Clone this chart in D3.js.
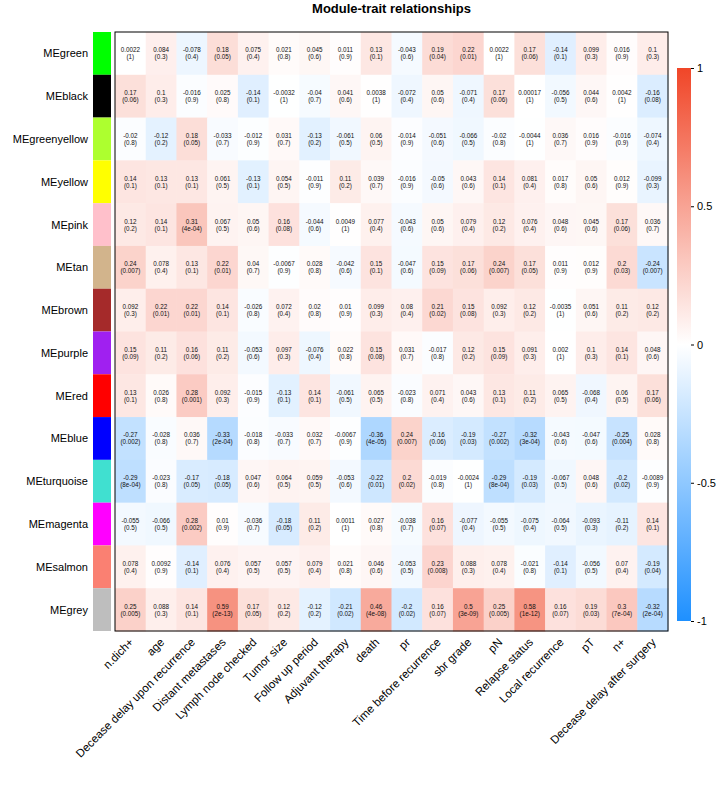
<!DOCTYPE html>
<html><head><meta charset="utf-8">
<script src="https://cdn.jsdelivr.net/npm/d3@7"></script>
<style>body{margin:0;background:#fff}svg{display:block;font-family:"Liberation Sans",Arial,sans-serif}</style>
</head><body><svg id="c" width="720" height="802"></svg>
<script>
const modules = ["MEgreen","MEblack","MEgreenyellow","MEyellow","MEpink","MEtan","MEbrown","MEpurple","MEred","MEblue","MEturquoise","MEmagenta","MEsalmon","MEgrey"];
const moduleColors = ["#00FF00","#000000","#ADFF2F","#FFFF00","#FFC0CB","#D2B48C","#A52A2A","#A020F0","#FF0000","#0000FF","#40E0D0","#FF00FF","#FA8072","#BEBEBE"];
const traits = ["n.dich+","age","Decease delay upon recurrence","Distant metastases","Lymph node checked","Tumor size","Follow up period","Adjuvant therapy","death","pr","Time before recurrence","sbr grade","pN","Relapse status","Local recurrence","pT","n+","Decease delay after surgery"];
const cor = [
 ["0.0022","0.084","-0.078","0.18","0.075","0.021","0.045","0.011","0.13","-0.043","0.19","0.22","0.0022","0.17","-0.14","0.099","0.016","0.1"],
 ["0.17","0.1","-0.016","0.025","-0.14","-0.0032","-0.04","0.041","0.0038","-0.072","0.05","-0.071","0.17","0.00017","-0.056","0.044","0.0042","-0.16"],
 ["-0.02","-0.12","0.18","-0.033","-0.012","0.031","-0.13","-0.061","0.06","-0.014","-0.051","-0.066","-0.02","-0.0044","0.036","0.016","-0.016","-0.074"],
 ["0.14","0.13","0.13","0.061","-0.13","0.054","-0.011","0.11","0.039","-0.016","-0.05","0.043","0.14","0.081","0.017","0.05","0.012","-0.099"],
 ["0.12","0.14","0.31","0.067","0.05","0.16","-0.044","0.0049","0.077","-0.043","0.05","0.079","0.12","0.076","0.048","0.045","0.17","0.036"],
 ["0.24","0.078","0.13","0.22","0.04","-0.0067","0.028","-0.042","0.15","-0.047","0.15","0.17","0.24","0.17","0.011","0.012","0.2","-0.24"],
 ["0.092","0.22","0.22","0.14","-0.026","0.072","0.02","0.01","0.099","0.08","0.21","0.15","0.092","0.12","-0.0035","0.051","0.11","0.12"],
 ["0.15","0.11","0.16","0.11","-0.053","0.097","-0.076","0.022","0.15","0.031","-0.017","0.12","0.15","0.091","0.002","0.1","0.14","0.048"],
 ["0.13","0.026","0.28","0.092","-0.015","-0.13","0.14","-0.061","0.065","-0.023","0.071","0.043","0.13","0.11","0.065","-0.068","0.06","0.17"],
 ["-0.27","-0.028","0.036","-0.33","-0.018","-0.033","0.032","-0.0067","-0.36","0.24","-0.16","-0.19","-0.27","-0.32","-0.043","-0.047","-0.25","0.028"],
 ["-0.29","-0.023","-0.17","-0.18","0.047","0.064","0.059","-0.053","-0.22","0.2","-0.019","-0.0024","-0.29","-0.19","-0.067","0.048","-0.2","-0.0089"],
 ["-0.055","-0.066","0.28","0.01","-0.036","-0.18","0.11","0.0011","0.027","-0.038","0.16","-0.077","-0.055","-0.075","-0.064","-0.093","-0.11","0.14"],
 ["0.078","0.0092","-0.14","0.076","0.057","0.057","0.079","0.021","0.046","-0.053","0.23","0.088","0.078","-0.021","-0.14","-0.056","0.07","-0.19"],
 ["0.25","0.088","0.14","0.59","0.17","0.12","-0.12","-0.21","0.46","-0.2","0.16","0.5","0.25","0.58","0.16","0.19","0.3","-0.32"]
];
const pval = [
 ["1","0.3","0.4","0.05","0.4","0.8","0.6","0.9","0.1","0.6","0.04","0.01","1","0.06","0.1","0.3","0.9","0.3"],
 ["0.06","0.3","0.9","0.8","0.1","1","0.7","0.6","1","0.4","0.6","0.4","0.06","1","0.5","0.6","1","0.08"],
 ["0.8","0.2","0.05","0.7","0.9","0.7","0.2","0.5","0.5","0.9","0.6","0.5","0.8","1","0.7","0.9","0.9","0.4"],
 ["0.1","0.1","0.1","0.5","0.1","0.5","0.9","0.2","0.7","0.9","0.6","0.6","0.1","0.4","0.8","0.6","0.9","0.3"],
 ["0.2","0.1","4e-04","0.5","0.6","0.08","0.6","1","0.4","0.6","0.6","0.4","0.2","0.4","0.6","0.6","0.06","0.7"],
 ["0.007","0.4","0.1","0.01","0.7","0.9","0.8","0.6","0.1","0.6","0.09","0.06","0.007","0.05","0.9","0.9","0.03","0.007"],
 ["0.3","0.01","0.01","0.1","0.8","0.4","0.8","0.9","0.3","0.4","0.02","0.08","0.3","0.2","1","0.6","0.2","0.2"],
 ["0.09","0.2","0.06","0.2","0.6","0.3","0.4","0.8","0.08","0.7","0.8","0.2","0.09","0.3","1","0.3","0.1","0.6"],
 ["0.1","0.8","0.001","0.3","0.9","0.1","0.1","0.5","0.5","0.8","0.4","0.6","0.1","0.2","0.5","0.4","0.5","0.06"],
 ["0.002","0.8","0.7","2e-04","0.8","0.7","0.7","0.9","4e-05","0.007","0.06","0.03","0.002","3e-04","0.6","0.6","0.004","0.8"],
 ["8e-04","0.8","0.05","0.05","0.6","0.5","0.5","0.6","0.01","0.02","0.8","1","8e-04","0.03","0.5","0.6","0.02","0.9"],
 ["0.5","0.5","0.002","0.9","0.7","0.05","0.2","1","0.8","0.7","0.07","0.4","0.5","0.4","0.5","0.3","0.2","0.1"],
 ["0.4","0.9","0.1","0.4","0.5","0.5","0.4","0.8","0.6","0.5","0.008","0.3","0.4","0.8","0.1","0.5","0.4","0.04"],
 ["0.005","0.3","0.1","2e-13","0.05","0.2","0.2","0.02","4e-08","0.02","0.07","3e-09","0.005","1e-12","0.07","0.03","7e-04","2e-04"]
];
const colorTicks = [-1,-0.5,0,0.5,1];
const colorTickLabels = ["-1","-0.5","0","0.5","1"];

const svg = d3.select("#c");
const L = 115, R = 668, T = 32, B = 631;
const x = d3.scaleBand().domain(traits).range([L,R]);
const y = d3.scaleBand().domain(modules).range([T,B]);
const color = d3.scaleLinear().domain([-1,0,1]).range(["#1E90FF","#FFFFFF","#F04628"]);

svg.append("text").attr("x",(L+R)/2).attr("y",13).attr("text-anchor","middle")
  .attr("font-weight","bold").attr("font-size",13).text("Module-trait relationships");

const cells = [];
modules.forEach((m,i)=>traits.forEach((t,j)=>cells.push({m,t,c:cor[i][j],p:pval[i][j]})));
const g = svg.append("g");
g.selectAll("rect.cell").data(cells).join("rect").attr("class","cell")
  .attr("x",d=>x(d.t)).attr("y",d=>y(d.m)).attr("width",x.bandwidth()+0.5).attr("height",y.bandwidth()+0.5)
  .attr("fill",d=>color(+d.c));
const tg = g.selectAll("text.v").data(cells).join("text").attr("class","v")
  .attr("text-anchor","middle").attr("font-size",6.3).attr("fill","#111");
tg.append("tspan").attr("x",d=>x(d.t)+x.bandwidth()/2).attr("y",d=>y(d.m)+y.bandwidth()/2-1).text(d=>d.c);
tg.append("tspan").attr("x",d=>x(d.t)+x.bandwidth()/2).attr("y",d=>y(d.m)+y.bandwidth()/2+6).text(d=>"("+d.p+")");

svg.append("rect").attr("x",L).attr("y",T).attr("width",R-L).attr("height",B-T)
  .attr("fill","none").attr("stroke","#000").attr("stroke-width",1);

// module swatches and labels
svg.selectAll("rect.sw").data(modules).join("rect").attr("class","sw")
  .attr("x",93).attr("y",d=>y(d)).attr("width",18).attr("height",y.bandwidth())
  .attr("fill",(d,i)=>moduleColors[i]);
svg.selectAll("text.ml").data(modules).join("text").attr("class","ml")
  .attr("x",88).attr("y",d=>y(d)+y.bandwidth()/2+4).attr("text-anchor","end")
  .attr("font-size",11).text(d=>d);

// trait labels
svg.selectAll("text.tl").data(traits).join("text").attr("class","tl")
  .attr("transform",d=>`translate(${x(d)+x.bandwidth()/2+4},${B+12}) rotate(-45)`)
  .attr("text-anchor","end").attr("font-size",11.5).text(d=>d);

// color bar
const cbT = 68, cbB = 621, cbX = 677, cbW = 14;
const cy = d3.scaleLinear().domain([-1,1]).range([cbB,cbT]);
const defs = svg.append("defs");
const grad = defs.append("linearGradient").attr("id","cb").attr("x1",0).attr("y1",1).attr("x2",0).attr("y2",0);
d3.range(-1,1.001,0.1).forEach(v=>grad.append("stop").attr("offset",(v+1)/2).attr("stop-color",color(v)));
svg.append("rect").attr("x",cbX).attr("y",cbT).attr("width",cbW).attr("height",cbB-cbT).attr("fill","url(#cb)");
const ax = d3.axisRight(cy).tickValues(colorTicks).tickFormat((d,i)=>colorTickLabels[i]).tickSize(3);
svg.append("g").attr("transform",`translate(${cbX+cbW},0)`).call(ax)
  .call(s=>s.select(".domain").remove())
  .call(s=>s.selectAll("text").attr("font-size",11).attr("font-family","Liberation Sans, Arial"));
</script></body></html>
